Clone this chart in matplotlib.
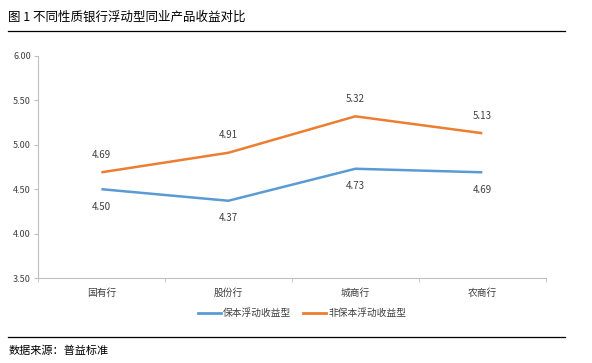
import matplotlib
matplotlib.use("Agg")
import matplotlib.pyplot as plt
from matplotlib.lines import Line2D

plt.rcParams['font.family'] = ['Noto Sans CJK SC', 'DejaVu Sans']

# data
categories = ["国有行", "股份行", "城商行", "农商行"]
guaranteed = [4.50, 4.37, 4.73, 4.69]
non_guaranteed = [4.69, 4.91, 5.32, 5.13]
series_names = ["保本浮动收益型", "非保本浮动收益型"]
title = "图 1 不同性质银行浮动型同业产品收益对比"
source = "数据来源：普益标准"

blue = "#5B9BD5"
orange = "#ED7D31"
axis_gray = "#BFBFBF"
text_gray = "#404040"

fig = plt.figure(figsize=(5.92, 3.63), dpi=100)
ax = fig.add_axes([0.064, 0.234, 0.858, 0.612])

x = list(range(len(categories)))
ax.plot(x, guaranteed, color=blue, linewidth=1.8, solid_capstyle="butt")
ax.plot(x, non_guaranteed, color=orange, linewidth=1.8, solid_capstyle="butt")

# data labels: orange above, blue below
for xi, v in zip(x, non_guaranteed):
    ax.annotate(f"{v:.2f}", (xi, v), xytext=(0, 9), textcoords="offset points",
                ha="center", va="bottom", fontsize=7, color=text_gray)
for xi, v in zip(x, guaranteed):
    ax.annotate(f"{v:.2f}", (xi, v), xytext=(0, -9), textcoords="offset points",
                ha="center", va="top", fontsize=7, color=text_gray)

ax.set_xlim(-0.5, len(categories) - 0.5)
ax.set_ylim(3.5, 6.0)
ax.set_yticks([3.5, 4.0, 4.5, 5.0, 5.5, 6.0])
ax.set_yticklabels([f"{t:.2f}" for t in [3.5, 4.0, 4.5, 5.0, 5.5, 6.0]])
ax.set_xticks(x)
ax.set_xticklabels(categories)
ax.set_xticks([i - 0.5 for i in range(len(categories) + 1)], minor=True)

ax.tick_params(axis="x", which="major", length=0, pad=7, labelsize=7, labelcolor=text_gray)
ax.tick_params(axis="x", which="minor", length=3, color=axis_gray, direction="out")
ax.tick_params(axis="y", length=3, color=axis_gray, labelsize=6.5, labelcolor=text_gray, pad=2)

for side in ["top", "right"]:
    ax.spines[side].set_visible(False)
for side in ["left", "bottom"]:
    ax.spines[side].set_color(axis_gray)
    ax.spines[side].set_linewidth(0.8)

handles = [Line2D([], [], color=blue, linewidth=2),
           Line2D([], [], color=orange, linewidth=2)]
fig.legend(handles, series_names, loc="center", bbox_to_anchor=(0.51, 0.138), ncol=2,
           frameon=False, fontsize=7, handlelength=2.4, handletextpad=0.2,
           columnspacing=1.2, labelcolor=text_gray)

# title, rules and source
fig.text(0.014, 0.953, title, fontsize=9, ha="left", va="center", color="black")
fig.add_artist(Line2D([0.014, 0.955], [0.915, 0.915], color="black", linewidth=0.9))
fig.add_artist(Line2D([0.014, 0.955], [0.072, 0.072], color="black", linewidth=0.9))
fig.text(0.014, 0.035, source, fontsize=8, ha="left", va="center", color="black")

fig.savefig("out.png", dpi=100)
